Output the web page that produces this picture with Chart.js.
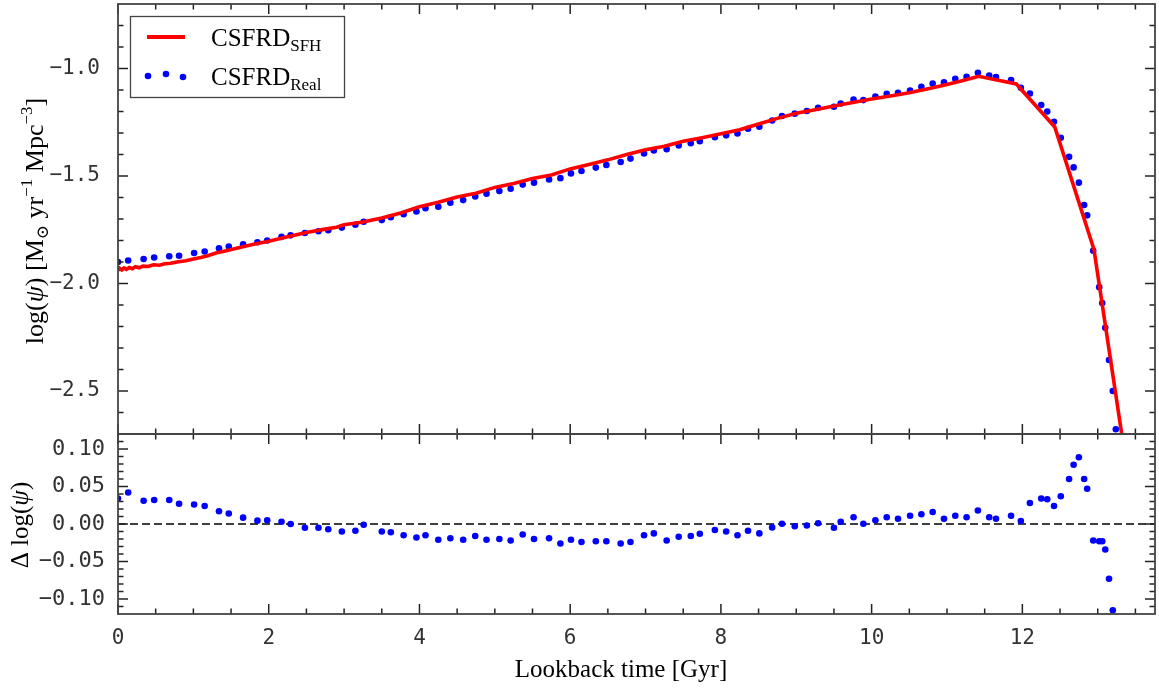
<!DOCTYPE html>
<html>
<head>
<meta charset="utf-8">
<script src="https://cdn.jsdelivr.net/npm/chart.js@4.4.1/dist/chart.umd.min.js"></script>
<style>
html,body{margin:0;padding:0;background:#fff;}
canvas{display:block;}
</style>
</head>
<body>
<canvas id="chart" width="1159" height="690"></canvas>
<script>

// CSFRD from the SFH (red line)
const timeSFH = [0.00,0.02,0.05,0.08,0.11,0.15,0.19,0.23,0.28,0.33,
0.40,0.47,0.55,0.62,0.70,0.80,0.90,1.00,1.10,1.20,
1.30,1.45,1.60,1.80,2.00,2.25,2.50,2.75,2.90,3.00,
3.25,3.50,3.75,4.00,4.25,4.50,4.75,5.00,5.25,5.50,
5.75,6.00,6.25,6.50,6.75,7.00,7.25,7.50,7.75,8.00,
8.25,8.50,8.75,9.00,9.25,9.50,9.75,10.00,10.25,10.50,
10.75,11.00,11.20,11.42,11.92,12.43,12.95,13.40];

const logSFH = [-1.940,-1.929,-1.937,-1.928,-1.934,-1.926,-1.931,-1.922,-1.927,-1.919,
-1.921,-1.913,-1.915,-1.908,-1.906,-1.899,-1.894,-1.886,-1.879,-1.870,
-1.858,-1.846,-1.834,-1.818,-1.803,-1.782,-1.763,-1.747,-1.738,-1.727,
-1.714,-1.695,-1.672,-1.643,-1.622,-1.598,-1.580,-1.553,-1.535,-1.512,
-1.495,-1.467,-1.446,-1.425,-1.400,-1.378,-1.362,-1.338,-1.322,-1.304,
-1.285,-1.258,-1.232,-1.208,-1.192,-1.174,-1.158,-1.142,-1.128,-1.113,
-1.094,-1.074,-1.057,-1.036,-1.072,-1.272,-1.842,-2.890];

// real CSFRD (blue points) and residual
const timeReal = [0.00,0.135,0.34,0.48,0.68,0.81,1.01,1.15,1.34,1.47,
1.66,1.85,1.98,2.17,2.29,2.48,2.66,2.79,2.97,3.15,
3.26,3.50,3.62,3.79,3.96,4.08,4.25,4.41,4.58,4.74,
4.89,5.06,5.21,5.37,5.52,5.72,5.87,6.01,6.15,6.34,
6.48,6.67,6.80,6.98,7.11,7.28,7.44,7.60,7.72,7.92,
8.07,8.22,8.36,8.51,8.68,8.81,8.98,9.14,9.29,9.50,
9.59,9.76,9.89,10.05,10.20,10.35,10.51,10.66,10.81,10.96,
11.11,11.26,11.41,11.56,11.65,11.85,11.98,12.10,12.25,12.33,
12.42,12.51,12.62,12.68,12.75,12.82,12.86,12.94,13.02,13.06,
13.10,13.15,13.20,13.24];

const logReal = [-1.900,-1.893,-1.886,-1.879,-1.873,-1.871,-1.858,-1.851,-1.836,-1.828,
-1.818,-1.808,-1.800,-1.783,-1.776,-1.765,-1.757,-1.752,-1.740,-1.727,
-1.713,-1.705,-1.692,-1.678,-1.665,-1.650,-1.643,-1.624,-1.612,-1.595,
-1.582,-1.570,-1.559,-1.540,-1.531,-1.516,-1.510,-1.488,-1.477,-1.461,
-1.449,-1.435,-1.419,-1.395,-1.381,-1.375,-1.358,-1.348,-1.338,-1.320,
-1.311,-1.302,-1.280,-1.271,-1.242,-1.221,-1.210,-1.198,-1.183,-1.178,
-1.163,-1.144,-1.147,-1.130,-1.118,-1.113,-1.102,-1.085,-1.070,-1.064,
-1.048,-1.039,-1.020,-1.033,-1.040,-1.054,-1.090,-1.116,-1.170,-1.200,
-1.248,-1.322,-1.411,-1.460,-1.531,-1.635,-1.683,-1.848,-2.017,-2.091,
-2.206,-2.356,-2.500,-2.678];

const deltaLog = [0.034,0.042,0.031,0.032,0.032,0.027,0.026,0.024,0.017,0.014,
0.0085,0.0045,0.005,0.003,0.000,-0.005,-0.005,-0.007,-0.010,-0.009,
-0.001,-0.010,-0.011,-0.015,-0.018,-0.015,-0.021,-0.019,-0.021,-0.016,
-0.021,-0.020,-0.022,-0.014,-0.020,-0.019,-0.026,-0.021,-0.024,-0.023,
-0.023,-0.026,-0.024,-0.015,-0.0125,-0.022,-0.017,-0.016,-0.013,-0.008,
-0.010,-0.015,-0.009,-0.0125,-0.0045,0.0004,-0.003,-0.002,0.001,-0.005,
0.003,0.009,0.0004,0.005,0.009,0.007,0.011,0.013,0.016,0.007,
0.011,0.009,0.018,0.009,0.007,0.011,0.004,0.028,0.034,0.033,
0.024,0.037,0.060,0.079,0.089,0.060,0.047,-0.022,-0.023,-0.023,
-0.034,-0.073,-0.115,null];

// dashed zero line of the residual panel
const zeroLineX = [0, 13.76];
const zeroLineY = [0, 0];

// tick labels
const ticksX = [0, 2, 4, 6, 8, 10, 12];
const ticksTop = [-2.5, -2.0, -1.5, -1.0];
const ticksBottom = [-0.10, -0.05, 0.00, 0.05, 0.10];


const SERIF = '"Liberation Serif", "DejaVu Serif", serif';
const MONO = '"DejaVu Sans Mono", monospace';

function toPoints(xs, ys){
return xs.map((x, i) => ({x: x, y: ys[i]}));
}

function minusLabel(v, digits){
const s = Math.abs(v).toFixed(digits);
return (v < -1e-9 ? '\u2212' : '') + s;
}

// no extra room for labels at the ends of an axis
function noPadding(s){
s.paddingTop = 0;
s.paddingBottom = 0;
s.paddingLeft = 0;
s.paddingRight = 0;
}

// text made of parts: [text, size, shift, italic]
function richWidth(ctx, parts){
let w = 0;
parts.forEach(p => {
ctx.font = (p[3] ? 'italic ' : '') + p[1] + 'px ' + SERIF;
w += ctx.measureText(p[0]).width;
});
return w;
}

function richText(ctx, parts, x, y, align){
let cx = align === 'center' ? x - richWidth(ctx, parts) / 2 : x;
ctx.textAlign = 'left';
ctx.textBaseline = 'alphabetic';
parts.forEach(p => {
ctx.font = (p[3] ? 'italic ' : '') + p[1] + 'px ' + SERIF;
ctx.fillText(p[0], cx, y + p[2]);
cx += ctx.measureText(p[0]).width;
});
}


// frame, inward ticks, legend and axis titles
const decor = {

id: 'decor',

afterDraw(chart){

const ctx = chart.ctx;
const xs = chart.scales.x;

const panels = [
{ys: chart.scales.yTop, major: ticksTop, minor: 0.1},
{ys: chart.scales.yBottom, major: ticksBottom, minor: 0.01}
];

ctx.save();

const seg = (x1, y1, x2, y2) => {
ctx.beginPath();
ctx.moveTo(x1, y1);
ctx.lineTo(x2, y2);
ctx.stroke();
};

panels.forEach(p => {

const L = xs.left, R = xs.right, T = p.ys.top, B = p.ys.bottom;

ctx.strokeStyle = '#222';
ctx.lineWidth = 1.5;

for (let k = 0; k * 0.5 <= xs.max; k++){
const px = xs.getPixelForValue(k * 0.5);
const len = (k % 4 === 0) ? 10 : 5.5;
seg(px, T, px, T + len);
seg(px, B, px, B - len);
}

const lo = Math.ceil(p.ys.min / p.minor - 1e-6);
const hi = Math.floor(p.ys.max / p.minor + 1e-6);

for (let k = lo; k <= hi; k++){
const v = k * p.minor;
const py = p.ys.getPixelForValue(v);
if (py < T + 1 || py > B - 1) continue;
const major = p.major.some(m => Math.abs(m - v) < p.minor / 10);
const len = major ? 10 : 5.5;
seg(L, py, L + len, py);
seg(R, py, R - len, py);
}

ctx.strokeStyle = '#444';
ctx.lineWidth = 1.8;
ctx.strokeRect(L, T, R - L, B - T);

});


// legend
ctx.fillStyle = '#fff';
ctx.fillRect(130, 16, 215, 82);
ctx.strokeStyle = '#444';
ctx.lineWidth = 1.3;
ctx.strokeRect(130.5, 16.5, 214, 81);

ctx.strokeStyle = '#ff0000';
ctx.lineWidth = 4;
seg(147, 37, 185, 37);

ctx.fillStyle = '#0000ff';
[[148, 76], [166, 74], [183, 77]].forEach(d => {
ctx.beginPath();
ctx.arc(d[0], d[1], 3.3, 0, Math.PI * 2);
ctx.fill();
});

ctx.fillStyle = '#000';
richText(ctx, [['CSFRD', 25, 0], ['SFH', 17, 5]], 211, 46, 'left');
richText(ctx, [['CSFRD', 25, 0], ['Real', 17, 5]], 211, 85, 'left');


// axis titles
richText(ctx, [['Lookback time [Gyr]', 25, 0]], 621, 677, 'center');

ctx.save();
ctx.translate(43, 221);
ctx.rotate(-Math.PI / 2);
richText(ctx, [
['log(', 26, 0], ['\u03c8', 26, 0, true], [') [M', 26, 0],
['\u2299', 17, 5], [' yr', 26, 0], ['\u22121', 17, -11],
[' Mpc', 26, 0], ['\u22123', 17, -11], [']', 26, 0]
], 0, 0, 'center');
ctx.restore();

ctx.save();
ctx.translate(28, 525);
ctx.rotate(-Math.PI / 2);
richText(ctx, [['\u0394 log(', 25, 0], ['\u03c8', 25, 0, true], [')', 25, 0]], 0, 0, 'center');
ctx.restore();

ctx.restore();

}

};


new Chart(

document.getElementById("chart"),

{

type: "scatter",

data: {

datasets: [

{
type: "line",
label: "CSFRD SFH",
data: toPoints(timeSFH, logSFH),
yAxisID: "yTop",
borderColor: "#ff0000",
borderWidth: 3.6,
pointRadius: 0,
tension: 0,
fill: false,
order: 0
},

{
label: "CSFRD Real",
data: toPoints(timeReal, logReal),
yAxisID: "yTop",
backgroundColor: "#0000ff",
borderWidth: 0,
pointRadius: 3.3,
order: 1
},

{
label: "Delta",
data: toPoints(timeReal, deltaLog),
yAxisID: "yBottom",
backgroundColor: "#0000ff",
borderWidth: 0,
pointRadius: 3.3,
order: 1
},

{
type: "line",
label: "zero",
data: toPoints(zeroLineX, zeroLineY),
yAxisID: "yBottom",
borderColor: "#000",
borderWidth: 1.5,
borderDash: [8, 4],
pointRadius: 0,
order: 2
}

]

},

options: {

responsive: false,
animation: false,
devicePixelRatio: 1,
events: [],

layout: {padding: {top: 4, right: 1, left: 0, bottom: 0}},

plugins: {legend: {display: false}, tooltip: {enabled: false}},

scales: {

x: {
type: "linear",
position: "bottom",
min: 0,
max: 13.76,
afterBuildTicks: s => { s.ticks = ticksX.map(v => ({value: v})); },
afterFit: s => { s.height = 76; noPadding(s); },
grid: {display: false, drawTicks: false},
border: {display: false},
ticks: {
font: {family: MONO, size: 21},
color: "#333",
padding: 12,
maxRotation: 0,
autoSkip: false,
callback: v => String(v)
}
},

yBottom: {
type: "linear",
position: "left",
stack: "panels",
stackWeight: 180,
min: -0.12,
max: 0.12,
afterBuildTicks: s => { s.ticks = ticksBottom.map(v => ({value: v})); },
afterFit: s => { s.width = 118; noPadding(s); },
grid: {display: false, drawTicks: false},
border: {display: false},
ticks: {
font: {family: MONO, size: 22},
color: "#333",
padding: 13,
autoSkip: false,
callback: v => minusLabel(v, 2)
}
},

yTop: {
type: "linear",
position: "left",
stack: "panels",
stackWeight: 430,
min: -2.70,
max: -0.70,
afterBuildTicks: s => { s.ticks = ticksTop.map(v => ({value: v})); },
afterFit: s => { s.width = 118; noPadding(s); },
grid: {display: false, drawTicks: false},
border: {display: false},
ticks: {
font: {family: MONO, size: 21},
color: "#333",
padding: 18,
autoSkip: false,
callback: v => minusLabel(v, 1)
}
}

}

},

plugins: [decor]

}

);

</script>
</body>
</html>
